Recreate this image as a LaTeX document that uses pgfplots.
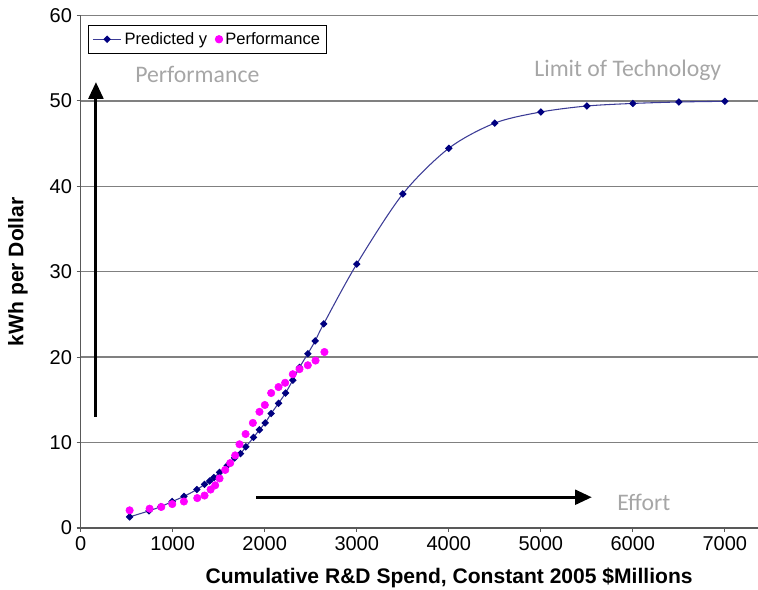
\documentclass[border=0pt]{standalone}
\usepackage{pgfplots}
\pgfplotsset{compat=1.18}
\usepackage{fontspec}
\setmainfont{Liberation Sans}
\newfontfamily\calibri{Carlito}
\usetikzlibrary{arrows.meta}
\definecolor{navyc}{RGB}{0,0,128}
\definecolor{navyline}{RGB}{60,60,150}
\definecolor{magc}{RGB}{255,0,255}
\definecolor{annot}{RGB}{166,166,166}
\definecolor{gridc}{RGB}{128,128,128}
\pgfplotsset{lineleg/.style={legend image code/.code={\draw[##1] (0cm,0cm) -- (0.75cm,0cm); \draw[##1, only marks] plot coordinates {(0.375cm,0cm)};}}}
\begin{document}
\begin{tikzpicture}
\begin{axis}[name=ax,
  scale only axis, width=508pt, height=384.4pt,
  xmin=0, xmax=7360, ymin=0, ymax=60,
  axis x line=bottom, axis y line=left,
  axis line style={-, draw=black!65, line width=0.9pt},
  xtick={0,1000,...,7000}, ytick={0,10,...,60},
  tick align=outside, major tick length=3pt,
  tick style={draw=black!65, line width=0.9pt},
  scaled ticks=false,
  /pgf/number format/assume math mode=true,
  /pgf/number format/1000 sep={},
  tick label style={font=\fontsize{15}{17}\selectfont},
  ymajorgrids, grid style={draw=gridc, line width=1pt},
  clip=false,
  legend style={at={(0.0108,0.981)}, anchor=north west, draw=black, line width=0.6pt,
    font=\fontsize{12.4}{14}\selectfont, inner xsep=3pt, inner ysep=3pt,
    /tikz/every even column/.append style={column sep=4pt}},
  legend columns=2, legend cell align=left,
]
\addplot[navyline, line width=0.8pt, smooth, tension=0.5, mark=square*, mark size=1.6pt,
  mark options={rotate=45, fill=navyc, draw=navyc, solid}, lineleg] coordinates {
(532,1.3) (742,2.0) (870,2.5) (995,3.1) (1122,3.7) (1263,4.5) (1346,5.1) (1401,5.5)
(1448,5.9) (1509,6.5) (1593,7.3) (1672,8.2) (1737,8.7) (1795,9.5) (1878,10.6)
(1943,11.5) (2005,12.3) (2070,13.4) (2150,14.6) (2226,15.8) (2305,17.3) (2378,18.8)
(2468,20.4) (2548,21.9) (2641,23.9) (3000,30.9) (3500,39.1) (4000,44.45) (4500,47.4)
(5000,48.7) (5500,49.4) (6000,49.7) (6500,49.87) (7000,49.95)
};
\addlegendentry{Predicted y}
\addplot[only marks, mark=*, mark size=2.8pt, mark options={fill=magc, draw=magc}] coordinates {
(532,2.07) (749,2.26) (876,2.46) (995,2.8) (1122,3.1) (1267,3.5) (1346,3.8) (1412,4.5)
(1462,5.0) (1509,5.8) (1571,6.8) (1625,7.6) (1679,8.5) (1726,9.8) (1792,11.0)
(1871,12.3) (1943,13.6) (2001,14.4) (2070,15.8) (2150,16.5) (2222,17.0) (2305,18.0)
(2378,18.6) (2468,19.05) (2552,19.6) (2649,20.6)
};
\addlegendentry{Performance}
\draw[line width=2.25pt, -{Triangle[length=12.5pt,width=11pt]}] (axis cs:166,13.0) -- (axis cs:166,52.2);
\draw[line width=2.25pt, -{Triangle[length=12.5pt,width=11pt]}] (axis cs:1906,3.6) -- (axis cs:5554,3.6);
\node[anchor=base west, text=annot, font=\calibri\fontsize{17.8}{20}\selectfont, inner sep=0pt] at (axis cs:591,52.1) {Performance};
\node[anchor=base west, text=annot, font=\calibri\fontsize{17.8}{20}\selectfont, inner sep=0pt] at (axis cs:4927,52.9) {Limit of Technology};
\node[anchor=base west, text=annot, font=\calibri\fontsize{17.8}{20}\selectfont, inner sep=0pt] at (axis cs:5829,2.1) {Effort};
\node[font=\bfseries\fontsize{15.8}{18}\selectfont] at (rel axis cs:0.544,-0.0976) {Cumulative R\&D Spend, Constant 2005 \$Millions};
\node[font=\bfseries\fontsize{15.8}{18}\selectfont, rotate=90] at (rel axis cs:-0.0926,0.5) {kWh per Dollar};
\end{axis}
\pgfresetboundingbox
\path[use as bounding box] ([xshift=-60.5pt,yshift=-46.5pt]ax.south west) rectangle ([yshift=11.6pt]ax.north east);
\end{tikzpicture}
\end{document}
